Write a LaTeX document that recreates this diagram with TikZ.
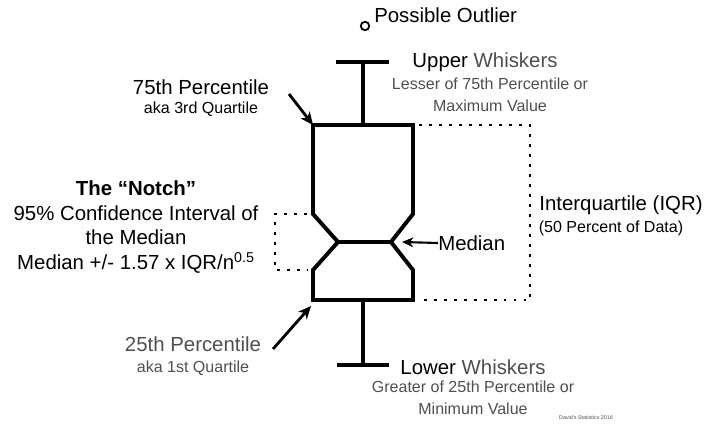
\documentclass[tikz,border=0pt]{standalone}
\usepackage{fontspec}
\setmainfont{Liberation Sans}
\usetikzlibrary{arrows.meta,calc,positioning}
\definecolor{txtgray}{HTML}{4E4E4E}
\tikzset{
  boxline/.style={black, line width=2.8pt, line join=miter},
  whisk/.style={black, line width=2.6pt},
  pointer/.style={-{Stealth[length=9pt,width=8pt,inset=2.5pt]}, black, line width=2pt},
  dotline/.style={black, line width=2.1pt, dash pattern=on 2.1pt off 5pt},
  big/.style={font=\fontsize{14.5}{17.7}\selectfont, inner sep=0pt},
  small/.style={font=\fontsize{11.4}{15.5}\selectfont, inner sep=0pt},
}

\begin{document}
\begin{tikzpicture}[x=0.025cm,y=-0.025cm]
\useasboundingbox (0,0) rectangle (705,425);

% box corners and notch
\coordinate (q3l) at (313,125); \coordinate (q3r) at (413,125);
\coordinate (q1l) at (313,300); \coordinate (q1r) at (413,300);
\coordinate (nul) at (313,214); \coordinate (nur) at (413,214);
\coordinate (ndl) at (313,270); \coordinate (ndr) at (413,270);
\coordinate (medl) at (338,242); \coordinate (medr) at (391,242);
\coordinate (wtop) at (363,62); \coordinate (wq3) at (363,125);
\coordinate (wbot) at (363,365); \coordinate (wq1) at (363,300);

\draw[boxline] (q3l) -- (q3r) -- (nur) -- (medr) -- (ndr) -- (q1r) -- (q1l) -- (ndl) -- (medl) -- (nul) -- cycle;
\draw[boxline] (medl) -- (medr);

% whiskers
\draw[whisk] (wq3) -- (wtop);
\draw[whisk] (336,62) -- (389,62);
\draw[whisk] (wq1) -- (wbot);
\draw[whisk] (337,365) -- (389,365);

\node[circle, draw, line width=1.3pt, minimum size=6pt, inner sep=0pt] (outl) at (365,26) {};

% dotted brackets
\draw[dotline] ($(q3r)+(6,0)$) -- (530,125) -- (530,300) -- ($(q1r)+(6,0)$);
\draw[dotline] ($(nul)+(-6,0)$) -- (275,214) -- (275,270) -- ($(ndl)+(-6,0)$);

% labels
\node[big, anchor=west] (poss) at (374,15) {Possible Outlier};

\node[big] (upw) at (485,62) {Upper \textcolor{txtgray}{Whiskers}};
\node[small, text=txtgray, align=center] (upwt) at (490,95) {Lesser of 75th Percentile or\\Maximum Value};

\node[big] (p75) at (201,87) {75th Percentile};
\node[small] (p75b) at (201,109) {aka 3rd Quartile};
\coordinate (a75) at (289,94);
\draw[pointer] (a75) -- (q3l);

\node[big, align=center] (notch) at (136,227) {\textbf{The “Notch”}\\95\% Confidence Interval of\\the Median\\Median +/- 1.57 x IQR/n\textsuperscript{0.5}};

\node[big, anchor=west] (med) at (438,243) {Median};
\draw[-{Stealth[length=8pt,width=7pt,inset=2.5pt]}, line width=1.5pt] (med.west) -- (402,242);

\node[big] (iqr) at (621,205) {Interquartile (IQR)};
\node[small] (iqrb) at (611,228) {(50 Percent of Data)};

\node[big, text=txtgray] (p25) at (193,344) {25th Percentile};
\node[small, text=txtgray] (p25b) at (193,368) {aka 1st Quartile};
\coordinate (a25) at (273,349);
\draw[pointer] (a25) -- ($(q1l)+(-2,6)$);

\node[big] (low) at (473,367) {Lower \textcolor{txtgray}{Whiskers}};
\node[small, text=txtgray, align=center] (lowt) at (473,398) {Greater of 25th Percentile or\\Minimum Value};

\node[font=\fontsize{3.8}{4}\selectfont, text=txtgray, inner sep=0pt] (cred) at (586,418) {David's Statistics 2016};
\end{tikzpicture}
\end{document}
